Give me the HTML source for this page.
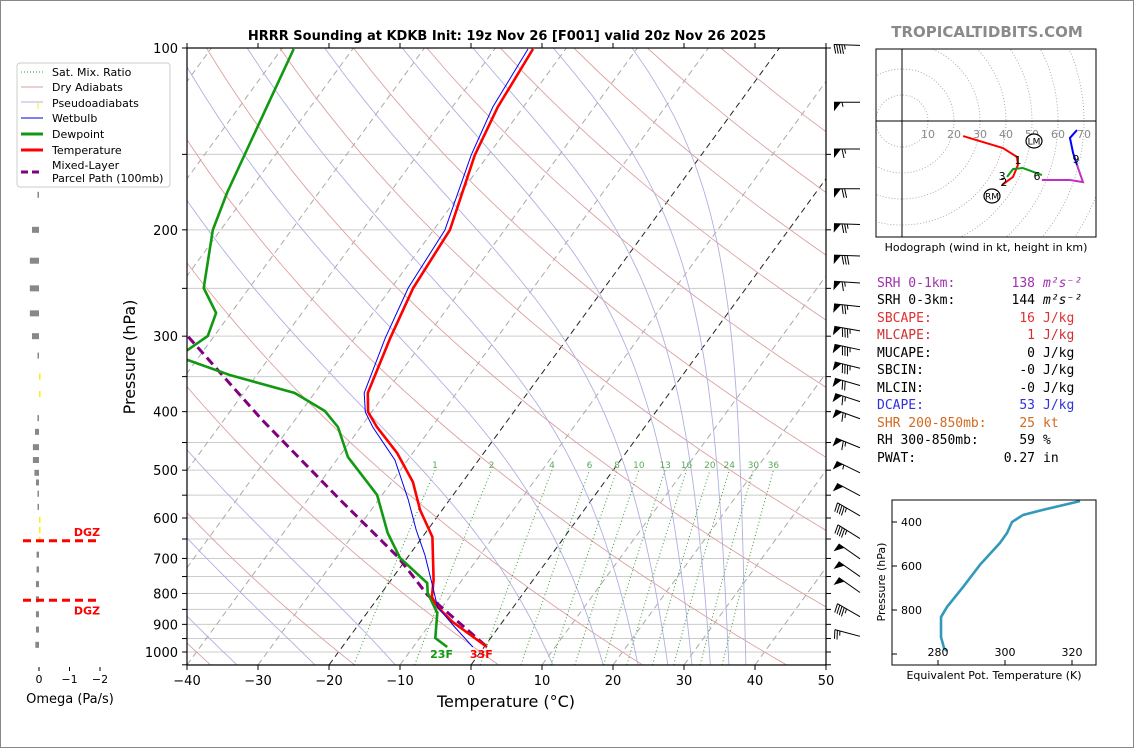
<!DOCTYPE html>
<html><head><meta charset="utf-8">
<style>
html,body{margin:0;padding:0;background:#fff;}
svg{display:block;font-family:"DejaVu Sans","Liberation Sans",sans-serif;}
.mono{font-family:"DejaVu Sans Mono","Liberation Mono",monospace;font-size:13px;}
</style></head>
<body>
<svg id="chart" width="1134" height="748" viewBox="0 0 1134 748" xmlns="http://www.w3.org/2000/svg">
<defs>
<clipPath id="mainclip"><rect x="187" y="48" width="639" height="617"/></clipPath>
<clipPath id="hodoclip"><rect x="876" y="49" width="220" height="188"/></clipPath>
<clipPath id="thclip"><rect x="892" y="500" width="204" height="165"/></clipPath>
</defs>
<rect x="0.5" y="0.5" width="1133" height="747" fill="#fff" stroke="#888"/>
<text x="507" y="40" text-anchor="middle" font-size="13" font-weight="bold">HRRR Sounding at KDKB Init: 19z Nov 26 [F001] valid 20z Nov 26 2025</text>
<text x="987" y="37" text-anchor="middle" font-size="15" font-weight="bold" fill="#8a8a8a">TROPICALTIDBITS.COM</text>
<g id="main-bg" clip-path="url(#mainclip)"></g>
<g id="main-data" clip-path="url(#mainclip)"></g>
<g id="main-axes"></g>
<text x="506" y="707" text-anchor="middle" font-size="16">Temperature (°C)</text>
<text x="135" y="357" text-anchor="middle" font-size="16" transform="rotate(-90 135 357)">Pressure (hPa)</text>
<g id="barbs"></g>
<g id="omega"></g>
<text x="70" y="703" text-anchor="middle" font-size="13">Omega (Pa/s)</text>
<g>
<rect x="17" y="63" width="153" height="124" rx="3" fill="#fff" stroke="#ccc"/>
<line x1="21" y1="72" x2="43" y2="72" stroke="#3a9a3a" stroke-dasharray="1,2"/>
<text x="52" y="76" font-size="11">Sat. Mix. Ratio</text>
<line x1="21" y1="87" x2="43" y2="87" stroke="#d9a0a0"/>
<text x="52" y="91" font-size="11">Dry Adiabats</text>
<line x1="21" y1="102" x2="43" y2="102" stroke="#b0b0e0"/>
<line x1="38" y1="103" x2="38" y2="109" stroke="#ffee00"/>
<text x="52" y="107" font-size="11">Pseudoadiabats</text>
<line x1="21" y1="118" x2="43" y2="118" stroke="#0000dd"/>
<text x="52" y="122" font-size="11">Wetbulb</text>
<line x1="21" y1="134" x2="43" y2="134" stroke="#119911" stroke-width="3"/>
<text x="52" y="138" font-size="11">Dewpoint</text>
<line x1="21" y1="150" x2="43" y2="150" stroke="#ff0000" stroke-width="3"/>
<text x="52" y="154" font-size="11">Temperature</text>
<line x1="21" y1="172" x2="43" y2="172" stroke="#800080" stroke-width="3" stroke-dasharray="7,4"/>
<text x="52" y="169" font-size="11">Mixed-Layer</text>
<text x="52" y="182" font-size="11">Parcel Path (100mb)</text>
</g>
<g id="hodo"></g>
<text x="986" y="251" text-anchor="middle" font-size="11">Hodograph (wind in kt, height in km)</text>
<g class="mono">
<text x="877" y="287" fill="#a030b0">SRH 0-1km:</text>
<text x="1035" y="287" text-anchor="end" fill="#a030b0">138</text>
<text x="1043" y="287" fill="#a030b0" font-style="italic">m²s⁻²</text>
<text x="877" y="304">SRH 0-3km:</text>
<text x="1035" y="304" text-anchor="end">144</text>
<text x="1043" y="304" font-style="italic">m²s⁻²</text>
<text x="877" y="322" fill="#e03030">SBCAPE:</text>
<text x="1035" y="322" text-anchor="end" fill="#e03030">16</text>
<text x="1043" y="322" fill="#e03030">J/kg</text>
<text x="877" y="339" fill="#d03030">MLCAPE:</text>
<text x="1035" y="339" text-anchor="end" fill="#d03030">1</text>
<text x="1043" y="339" fill="#d03030">J/kg</text>
<text x="877" y="357">MUCAPE:</text>
<text x="1035" y="357" text-anchor="end">0</text>
<text x="1043" y="357">J/kg</text>
<text x="877" y="374">SBCIN:</text>
<text x="1035" y="374" text-anchor="end">-0</text>
<text x="1043" y="374">J/kg</text>
<text x="877" y="392">MLCIN:</text>
<text x="1035" y="392" text-anchor="end">-0</text>
<text x="1043" y="392">J/kg</text>
<text x="877" y="409" fill="#3030dd">DCAPE:</text>
<text x="1035" y="409" text-anchor="end" fill="#3030dd">53</text>
<text x="1043" y="409" fill="#3030dd">J/kg</text>
<text x="877" y="427" fill="#d2691e">SHR 200-850mb:</text>
<text x="1035" y="427" text-anchor="end" fill="#d2691e">25</text>
<text x="1043" y="427" fill="#d2691e">kt</text>
<text x="877" y="444">RH 300-850mb:</text>
<text x="1035" y="444" text-anchor="end">59</text>
<text x="1043" y="444">%</text>
<text x="877" y="462">PWAT:</text>
<text x="1035" y="462" text-anchor="end">0.27</text>
<text x="1043" y="462">in</text>
</g>
<g id="thetae"></g>
<text x="994" y="679" text-anchor="middle" font-size="11">Equivalent Pot. Temperature (K)</text>
<text x="885" y="582" text-anchor="middle" font-size="11" transform="rotate(-90 885 582)">Pressure (hPa)</text>
</svg>
<script>
// ---- sounding data (hPa, °C) ----
const tempP = [100.4,125.2,150.4,200.1,249.7,302,372.6,400.6,424.2,468.3,523,582,645,760,811,842,892,981];
const tempT = [-54.6,-53.6,-51.9,-47.7,-46.9,-45.0,-42.5,-40.5,-37.7,-32.2,-27.0,-23.1,-18.6,-14.0,-12.5,-10.7,-7.0,0.4];
const dewP = [100.4,121.9,173.9,200.1,249.7,274.6,299.8,316.2,322,328.6,347.8,372.6,399,424.2,475.6,549.6,635.3,698.9,768.8,798.6,861.8,948,981];
const dewT = [-88.3,-86.4,-82.9,-81.1,-76.4,-72.1,-70.9,-72.3,-76,-71.2,-63.8,-52.8,-46.7,-43.2,-38.7,-30.7,-25.3,-21.0,-14.6,-13.5,-10.1,-7.8,-5.2];
const wbP = [100.4,125.2,150.4,200.1,249.7,302,372.6,400.6,424.2,481,560,628,691,774,842,909,981];
const wbT = [-55.3,-54.3,-52.4,-48.4,-47.6,-45.7,-43.0,-40.9,-38.3,-31.8,-25.8,-21.6,-17.8,-13.7,-10.7,-6.2,-1.6];
const parcelP = [290,300,413,560,696,805,981];
const parcelT = [-76,-73.7,-54.6,-35.4,-21.4,-13.3,0.4];
const tempTicks = [-40,-30,-20,-10,0,10,20,30,40,50];
const presTicks = [100,200,300,400,500,600,700,800,900,1000];
const mixRatios = [1,2,4,6,8,10,13,16,20,24,30,36];
const dryThetas = [-60,-40,-20,0,20,40,60,80,100,120,140,160,180,200];
const moistStart = [-45,-33,-22,-10.7,11.5,18.6,23.5,27.7,31.1,33.7,36.3,38.7];
// wind barbs
const barbP = [99,123,147,171,196,221,245,268,294,316,339,362,385,411,459,505,551,595,649,701,750,797,874,942];
const barbSpd = [45,55,65,70,75,80,65,75,85,85,85,70,65,65,65,55,50,45,45,50,50,50,45,25];
const barbDir = [272,270,270,270,272,272,274,276,280,282,284,286,288,290,292,296,298,300,302,305,305,305,300,285];
// omega (Pa/s)
const omegaP = [175,200,225,250,275,300,323,350,374,410,432,458,481,505,524,547,575,604,628,652,690,730,772,818,866,918,973];
const omegaV = [0.05,0.23,0.3,0.3,0.3,0.23,0.03,-0.05,-0.03,0.05,0.13,0.2,0.2,0.15,0.1,0.04,0.02,-0.02,-0.02,-0.02,0.08,0.08,0.1,0.1,0.1,0.1,0.12];
const dgzP = [652,818];
// hodograph (kt)
const hodoRedU = [23.5,38.8,44.2,44.6,42.7,38.5];
const hodoRedV = [-5.8,-10.4,-13.8,-16.9,-21.5,-24.6];
const hodoGreenU = [40.4,42.7,46.5,53.8];
const hodoGreenV = [-21.5,-18.5,-18.1,-20.8];
const hodoMagU = [53.8,64.6,69.6,67.3];
const hodoMagV = [-22.7,-22.7,-23.5,-16.9];
const hodoBlueU = [67.3,65.8,64.6,67.3];
const hodoBlueV = [-16.9,-12.3,-6.5,-3.5];
const hodoLabels = ['1','3','2','6','9'];
const hodoLabU = [44.6,38.5,39.2,51.9,66.9];
const hodoLabV = [-15.0,-21.2,-23.5,-21.2,-14.6];
// theta-e
const thP = [305,345,368,400,450,495,595,695,786,832,923,973,986];
const thV = [322.4,311.3,305.4,302.1,300.6,298.5,292.5,287.5,282.7,280.9,280.9,281.8,282.7];

const NS='http://www.w3.org/2000/svg';
function mk(tag, attrs, parent){const e=document.createElementNS(NS,tag);for(const k in attrs)e.setAttribute(k,attrs[k]);parent.appendChild(e);return e;}
const yP = p => 48 + 604*Math.log10(p/100);
const xT = (T,p) => 471 + 7.1*T + 0.73*(665 - yP(p));
const pts = (P,T) => P.map((p,i)=>xT(T[i],p).toFixed(1)+','+yP(p).toFixed(1)).join(' ');

const bg=document.getElementById('main-bg');
for(let p=100;p<=1050;p+=50){
  const l=mk('line',{x1:187,x2:826,y1:yP(p),y2:yP(p),stroke:'#cccccc','stroke-width':1},bg);
  
  
}
for(let T=-140;T<=50;T+=10){
  const special=(T===0||T===-20);
  const l=mk('line',{x1:xT(T,1050),y1:yP(1050),x2:xT(T,100),y2:yP(100),stroke:special?'#222':'#aaaaaa','stroke-width':1,'stroke-dasharray':'6,4'},bg);
  
  
}
dryThetas.forEach(th=>{
  const P=[],T=[];
  for(let p=1050;p>=100;p-=10){P.push(p);T.push((th+273.15)*Math.pow(p/1000,0.286)-273.15);}
  const l=mk('polyline',{points:pts(P,T),fill:'none',stroke:'#dfa0a0','stroke-width':0.9},bg);
  
  
});
function es(Tc){return 6.112*Math.exp(17.67*Tc/(Tc+243.5));}
moistStart.forEach(t0=>{
  const P=[1050],T=[t0];let Tk=t0+273.15;
  for(let p=1050;p>100;p-=2){
    const e=es(Tk-273.15),rs=0.622*e/(p-e);
    const d=(287.04*Tk+2.501e6*rs)/(p*(1005.7+2.501e6*2.501e6*rs*0.622/(287.04*Tk*Tk)));
    Tk-=d*2;
    if((p-2)%10===0){P.push(p-2);T.push(Tk-273.15);}
  }
  const l=mk('polyline',{points:pts(P,T),fill:'none',stroke:'#b0b0e0','stroke-width':0.9},bg);
  
  
});
mixRatios.forEach(w=>{
  const P=[],T=[];
  for(let p=1050;p>=500;p-=25){const e=w*p/(622+w),L=Math.log(e/6.112);P.push(p);T.push(243.5*L/(17.67-L));}
  const l=mk('polyline',{points:pts(P,T),fill:'none',stroke:'#3a9a3a','stroke-width':1,'stroke-dasharray':'1,2.5'},bg);
  
  
  const e=w*500/(622+w),L=Math.log(e/6.112);
  const t=mk('text',{x:xT(243.5*L/(17.67-L),500),y:468,'text-anchor':'middle','font-size':9,fill:'#5aaa5a'},bg);
  t.textContent=w;
  
  
});
const md=document.getElementById('main-data');
let l;
l=mk('polyline',{points:pts(parcelP,parcelT),fill:'none',stroke:'#800080','stroke-width':3,'stroke-dasharray':'9,5'},md);


l=mk('polyline',{points:pts(dewP,dewT),fill:'none',stroke:'#119911','stroke-width':2.6},md);


l=mk('polyline',{points:pts(tempP,tempT),fill:'none',stroke:'#ff0000','stroke-width':2.6},md);


l=mk('polyline',{points:pts(wbP,wbT),fill:'none',stroke:'#0000ee','stroke-width':1},md);


const sfcT=tempT[tempT.length-1], sfcD=dewT[dewT.length-1];
let tx=mk('text',{x:xT(sfcD,1000)-2,y:658,'text-anchor':'middle','font-size':11,'font-weight':'bold',fill:'#119911'},md);
tx.textContent=Math.round(sfcD*9/5+32)+'F';


tx=mk('text',{x:xT(sfcT,1000)-2,y:658,'text-anchor':'middle','font-size':11,'font-weight':'bold',fill:'#ff0000'},md);
tx.textContent=Math.round(sfcT*9/5+32)+'F';


const ax=document.getElementById('main-axes');
l=mk('rect',{x:187,y:48,width:639,height:617,fill:'none',stroke:'#000','stroke-width':1.2},ax);


tempTicks.forEach(T=>{
  const x=187+(T+40)*7.1;
  l=mk('line',{x1:x,x2:x,y1:665,y2:670,stroke:'#000'},ax);
  
  
  l=mk('line',{x1:x,x2:x,y1:48,y2:43,stroke:'#000'},ax);
  
  
  const t=mk('text',{x:x,y:685,'text-anchor':'middle','font-size':13},ax);
  t.textContent=(T<0?'\u2212'+(-T):T);
  
  
});
for(let p=100;p<=1050;p+=50){
  l=mk('line',{x1:182,x2:187,y1:yP(p),y2:yP(p),stroke:'#000'},ax);
  
  
  l=mk('line',{x1:826,x2:831,y1:yP(p),y2:yP(p),stroke:'#000'},ax);
  
  
}
presTicks.forEach(p=>{
  const t=mk('text',{x:178,y:yP(p)+5,'text-anchor':'end','font-size':13},ax);
  t.textContent=p;
  
  
});
const bb=document.getElementById('barbs');
barbP.forEach((p,i)=>{
  const y=yP(p), bx=860, len=26;
  const a=(barbDir[i]-270)*Math.PI/180;
  const dx=-Math.cos(a), dy=-Math.sin(a);
  const ex=bx+dx*len, ey=y+dy*len;
  const g=mk('g',{},bb);
  
  
  mk('line',{x1:bx,y1:y,x2:ex,y2:ey,stroke:'#000','stroke-width':1},g);
  let s=Math.round(barbSpd[i]/5)*5, pos=0;
  const perpX = dy, perpY = -dx;
  const at=d=>[ex-dx*d, ey-dy*d];
  while(s>=50){const [x1,y1]=at(pos),[x2,y2]=at(pos+7);
    mk('polygon',{points:`${x1},${y1} ${x2},${y2} ${x1+perpX*9},${y1+perpY*9}`,fill:'#000'},g);pos+=8;s-=50;}
  while(s>=10){const [x1,y1]=at(pos);
    mk('line',{x1:x1,y1:y1,x2:x1+perpX*9-dx*2,y2:y1+perpY*9-dy*2,stroke:'#000','stroke-width':1},g);pos+=2.6;s-=10;}
  if(s>=5){if(pos===0)pos=2.6;const [x1,y1]=at(pos);
    mk('line',{x1:x1,y1:y1,x2:x1+perpX*4.5-dx*1,y2:y1+perpY*4.5-dy*1,stroke:'#000','stroke-width':1},g);}
});
const om=document.getElementById('omega');
const ox=v=>39-30.5*v;
omegaP.forEach((p,i)=>{
  const v=omegaV[i];
  const w=Math.max(Math.abs(v)*30.5,1.5);
  const r=mk('rect',{x:v>=0?39-w:39,y:yP(p)-3,width:w,height:6,fill:v>=0?'#888':'#ffee00'},om);
  
  
});
[0,-1,-2].forEach(v=>{
  l=mk('line',{x1:ox(v),x2:ox(v),y1:667,y2:671,stroke:'#000'},om);
  
  
  const t=mk('text',{x:ox(v),y:683,'text-anchor':'middle','font-size':11},om);
  t.textContent=v===0?'0':'\u2212'+(-v);
  
  
});
dgzP.forEach((p,i)=>{
  l=mk('line',{x1:23,x2:99,y1:yP(p)+1,y2:yP(p)+1,stroke:'#ff0000','stroke-width':3,'stroke-dasharray':'8,5'},om);
  
  
  const t=mk('text',{x:87,y:i===0?yP(p)-4:yP(p)+15,'text-anchor':'middle','font-size':11,'font-weight':'bold',fill:'#ff0000'},om);
  t.textContent='DGZ';
  
  
});
const hd=document.getElementById('hodo');
const hx=u=>902+2.6*u, hy=v=>121-2.6*v;
const hc=mk('g',{'clip-path':'url(#hodoclip)'},hd);


for(let r=10;r<=100;r+=10){
  l=mk('circle',{cx:hx(0),cy:hy(0),r:2.6*r,fill:'none',stroke:'#999','stroke-width':0.8,'stroke-dasharray':'1,2'},hc);
  
  
}
l=mk('line',{x1:876,x2:1096,y1:hy(0),y2:hy(0),stroke:'#000'},hc);


l=mk('line',{x1:hx(0),x2:hx(0),y1:49,y2:237,stroke:'#000'},hc);


for(let r=10;r<=70;r+=10){
  const t=mk('text',{x:hx(r),y:138,'text-anchor':'middle','font-size':11,fill:'#888'},hc);
  t.textContent=r;
  
  
}
const hp=(U,V)=>U.map((u,i)=>hx(u)+','+hy(V[i])).join(' ');
l=mk('polyline',{points:hp(hodoRedU,hodoRedV),fill:'none',stroke:'#ff0000','stroke-width':2},hc);


l=mk('polyline',{points:hp(hodoGreenU,hodoGreenV),fill:'none',stroke:'#119911','stroke-width':2},hc);


l=mk('polyline',{points:hp(hodoMagU,hodoMagV),fill:'none',stroke:'#c030c0','stroke-width':2},hc);


l=mk('polyline',{points:hp(hodoBlueU,hodoBlueV),fill:'none',stroke:'#0000ff','stroke-width':2},hc);


hodoLabels.forEach((s,i)=>{
  const t=mk('text',{x:hx(hodoLabU[i]),y:hy(hodoLabV[i])+4,'text-anchor':'middle','font-size':11},hc);
  t.textContent=s;
  
  
});
[['LM',1034,141],['RM',992,196]].forEach(m=>{
  l=mk('ellipse',{cx:m[1],cy:m[2],rx:8,ry:7,fill:'#fff',stroke:'#000','stroke-width':1.2},hc);
  
  
  const t=mk('text',{x:m[1],y:m[2]+3.5,'text-anchor':'middle','font-size':9},hc);
  t.textContent=m[0];
  
  
});
l=mk('rect',{x:876,y:49,width:220,height:188,fill:'none',stroke:'#000'},hd);


const te=document.getElementById('thetae');
const tX=v=>938+3.35*(v-280), tY=p=>522+0.22*(p-400);
l=mk('polyline',{points:thP.map((p,i)=>tX(thV[i])+','+tY(p)).join(' '),fill:'none',stroke:'#3399bb','stroke-width':2.6,'clip-path':'url(#thclip)'},te);


l=mk('rect',{x:892,y:500,width:204,height:165,fill:'none',stroke:'#000'},te);


[400,600,800,1000].forEach(p=>{
  l=mk('line',{x1:892,x2:897,y1:tY(p),y2:tY(p),stroke:'#000'},te);
  
  
  if(p<1000){const t=mk('text',{x:922,y:tY(p)+4,'text-anchor':'end','font-size':11},te);
  t.textContent=p;
  
  }
});
[280,300,320].forEach(v=>{
  l=mk('line',{x1:tX(v),x2:tX(v),y1:665,y2:660,stroke:'#000'},te);
  
  
  const t=mk('text',{x:tX(v),y:656,'text-anchor':'middle','font-size':11},te);
  t.textContent=v;
  
  
});
</script>
</body></html>
